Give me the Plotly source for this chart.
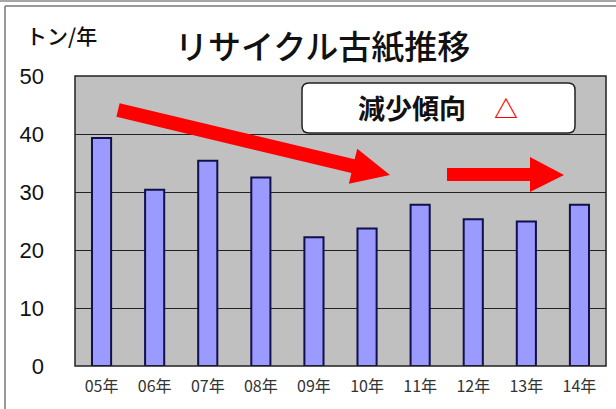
import plotly.graph_objects as go
import math

years = ["05年", "06年", "07年", "08年", "09年", "10年", "11年", "12年", "13年", "14年"]
tonnage = [39.3, 30.4, 35.4, 32.5, 22.2, 23.7, 27.8, 25.3, 24.9, 27.8]
y_ticks = [0, 10, 20, 30, 40, 50]

W, H = 616, 409
L, R, T, B = 75, 10, 76, 43
PW, PH = W - L - R, H - T - B


def px(x):
    return (x - L) / PW


def py(y):
    return (H - B - y) / PH


def poly(points):
    return "M " + " L ".join(f"{px(a):.5f},{py(b):.5f}" for a, b in points) + " Z"


fig = go.Figure()
fig.add_trace(go.Bar(
    x=years, y=tonnage, width=0.36,
    marker=dict(color="#9a9aff", line=dict(color="#10104a", width=2)),
    hoverinfo="x+y",
))

shapes = []
# frame lines
shapes.append(dict(type="line", xref="paper", yref="paper", x0=px(0), x1=px(616), y0=py(1), y1=py(1),
                   line=dict(color="#888888", width=1.5)))
shapes.append(dict(type="line", xref="paper", yref="paper", x0=px(5), x1=px(616), y0=py(6), y1=py(6),
                   line=dict(color="#777777", width=1.5)))
shapes.append(dict(type="line", xref="paper", yref="paper", x0=px(5), x1=px(5), y0=py(6), y1=py(409),
                   line=dict(color="#777777", width=1.5)))
# plot border
shapes.append(dict(type="rect", xref="paper", yref="paper", x0=0, x1=1, y0=0, y1=1,
                   line=dict(color="#222222", width=1.5), layer="above"))

# arrow 1 (decreasing)
tx, ty, hx, hy = 118, 110, 390, 175
dx, dy = hx - tx, hy - ty
ln = math.hypot(dx, dy)
ux, uy = dx / ln, dy / ln
nx, ny = -uy, ux
bx, by = hx - 38 * ux, hy - 38 * uy
sw, hw = 7, 18
a1 = [
    (tx + nx * sw, ty + ny * sw), (bx + nx * sw, by + ny * sw), (bx + nx * hw, by + ny * hw),
    (hx, hy), (bx - nx * hw, by - ny * hw), (bx - nx * sw, by - ny * sw), (tx - nx * sw, ty - ny * sw),
]
shapes.append(dict(type="path", xref="paper", yref="paper", path=poly(a1),
                   fillcolor="#ff0000", line=dict(width=0), layer="above"))
# arrow 2 (flat)
a2 = [(447, 168), (530, 168), (530, 157), (564, 175), (530, 192), (530, 181), (447, 181)]
shapes.append(dict(type="path", xref="paper", yref="paper", path=poly(a2),
                   fillcolor="#ff0000", line=dict(width=0), layer="above"))

# rounded label box
x0b, x1b, y0b, y1b, r = 302, 575, 83, 133, 7
box = (f"M {px(x0b + r):.5f},{py(y0b):.5f} L {px(x1b - r):.5f},{py(y0b):.5f} "
       f"Q {px(x1b):.5f},{py(y0b):.5f} {px(x1b):.5f},{py(y0b + r):.5f} "
       f"L {px(x1b):.5f},{py(y1b - r):.5f} Q {px(x1b):.5f},{py(y1b):.5f} {px(x1b - r):.5f},{py(y1b):.5f} "
       f"L {px(x0b + r):.5f},{py(y1b):.5f} Q {px(x0b):.5f},{py(y1b):.5f} {px(x0b):.5f},{py(y1b - r):.5f} "
       f"L {px(x0b):.5f},{py(y0b + r):.5f} Q {px(x0b):.5f},{py(y0b):.5f} {px(x0b + r):.5f},{py(y0b):.5f} Z")
shapes.append(dict(type="path", xref="paper", yref="paper", path=box,
                   fillcolor="white", line=dict(color="#222222", width=1.5), layer="above"))


def note(text, x, y, size, color="#111111", weight="normal"):
    return dict(text=text, xref="paper", yref="paper", x=px(x), y=py(y),
                xanchor="center", yanchor="middle", showarrow=False,
                font=dict(family="Noto Sans CJK JP", size=size, color=color, weight=weight))


annotations = [
    note("リサイクル古紙推移", 322, 45, 33, weight=500),
    note("トン/年", 61, 35, 21, weight=500),
    note("減少傾向", 412, 107, 27, weight="bold"),
    note("△", 506, 107, 24, color="#ff0000", weight="bold"),
]

fig.update_layout(
    width=W, height=H,
    margin=dict(l=L, r=R, t=T, b=B),
    paper_bgcolor="white", plot_bgcolor="#c0c0c0",
    showlegend=False, bargap=0.6,
    shapes=shapes, annotations=annotations,
    xaxis=dict(type="category", showgrid=False, ticks="", showline=False,
               tickfont=dict(family="Noto Sans CJK JP", size=16, color="#333333"),
               ticklabelstandoff=9),
    yaxis=dict(range=[0, 50], tickvals=y_ticks, showgrid=True, gridcolor="#222222", gridwidth=1.3,
               zeroline=False, showline=False, ticks="",
               tickfont=dict(family="Liberation Sans", size=22, color="#111111"),
               ticklabelstandoff=30),
)

fig.write_html("out.html", config={"displayModeBar": False},
               post_script="document.body.style.margin='0';document.body.style.overflow='hidden';")
